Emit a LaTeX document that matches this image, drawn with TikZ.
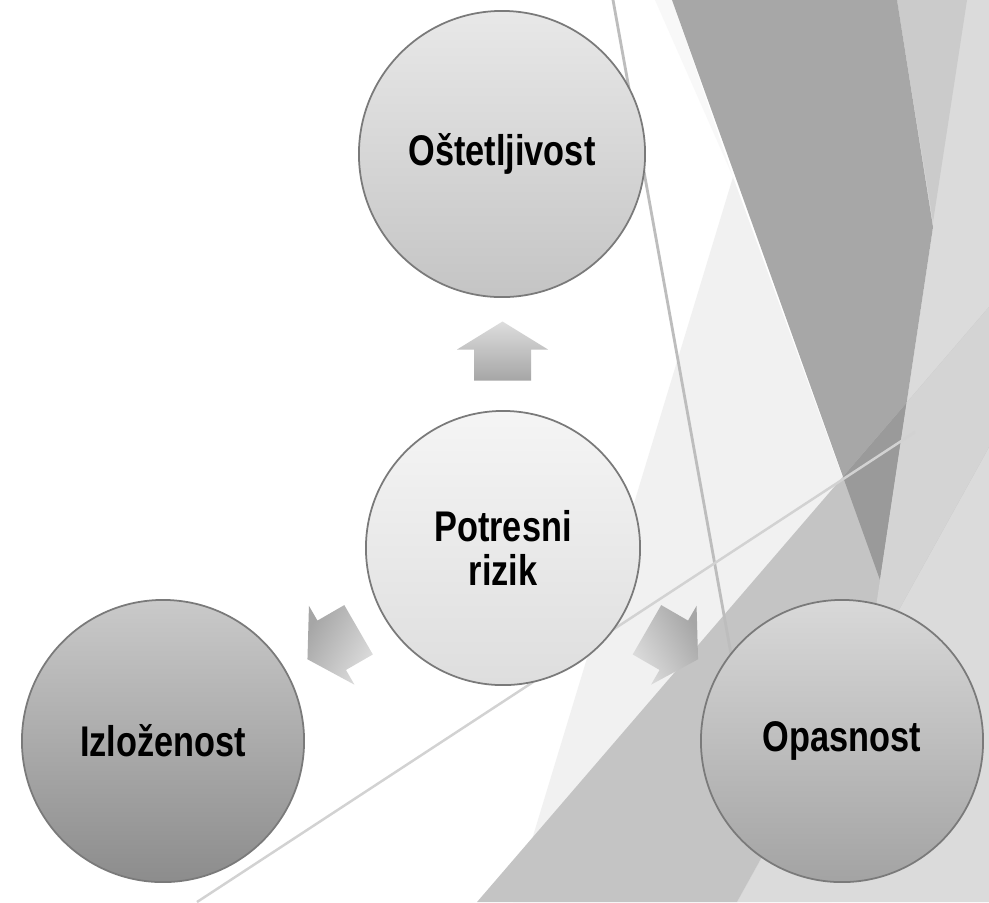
\documentclass[tikz,border=0pt]{standalone}
\usepackage{fontspec}
\setmainfont{Liberation Sans}[FakeStretch=0.8]
\usetikzlibrary{calc}

\definecolor{wedgedark}{HTML}{A7A7A7}
\definecolor{wedgedeep}{HTML}{9A9A9A}
\definecolor{facetmid}{HTML}{C4C4C4}
\definecolor{facetgrey}{HTML}{CBCBCB}
\definecolor{facetlight}{HTML}{DBDBDB}
\definecolor{facetsoft}{HTML}{D4D4D4}
\definecolor{facetpale}{HTML}{F1F1F1}
\definecolor{facetwhite}{HTML}{F8F8F8}
\definecolor{hairline}{HTML}{BDBDBD}
\definecolor{hairlight}{HTML}{D2D2D2}
\definecolor{bubbleline}{HTML}{7A7A7A}
\definecolor{arrowtop}{HTML}{DDDDDD}
\definecolor{arrowbot}{HTML}{A6A6A6}

\tikzset{
  bubble/.style={circle, draw=bubbleline, line width=0.5pt, inner sep=0pt,
    align=center, font=\fontsize{12.2}{12.6}\selectfont\bfseries},
  pics/blockarrow/.style={code={
    \shade[top color=arrowtop, bottom color=arrowbot, shading angle=#1]
      (-28.5,29.5) -- (28.5,29.5) -- (28.5,-1.5) -- (45.5,-1.5)
      -- (0,-29.5) -- (-45.5,-1.5) -- (-28.5,-1.5) -- cycle;
  }},
}

\begin{document}
\begin{tikzpicture}[x=0.01cm, y=-0.01cm]
\useasboundingbox (0,0) rectangle (989,902);
\fill[white] (0,0) rectangle (989,902);

% facets on the right
\fill[facetwhite] (655,0) -- (672,0) -- (733,177) -- cycle;
\fill[facetpale] (733,177) -- (880,580) -- (832,902) -- (513,902) -- cycle;
\fill[facetlight] (897,0) -- (989,0) -- (989,902) -- (737,902) -- (867,667)
  -- (880,580) -- (933,227) -- cycle;
\fill[facetgrey] (897,0) -- (967,0) -- (933,222) -- cycle;
\fill[wedgedark] (672,0) -- (897,0) -- (933,227) -- (880,580) -- cycle;
\fill[facetmid] (477,902) -- (989,307) -- (989,447) -- (737,902) -- cycle;
\begin{scope}
\clip (477,902) -- (989,307) -- (989,447) -- (737,902) -- cycle;
\fill[wedgedeep] (672,0) -- (897,0) -- (933,227) -- (880,580) -- cycle;
\fill[facetsoft] (989,0) -- (989,902) -- (737,902) -- (867,667)
  -- (880,580) -- (933,227) -- cycle;
\end{scope}
\draw[hairline, line width=0.8pt] (613,0) -- (733,665);
\draw[hairlight, line width=0.7pt] (197,902) -- (915,432);

% circles
\node[bubble, minimum size=2.74cm, top color=white!96!black, bottom color=white!87!black]
  (rizik) at (503,548) {Potresni\\rizik};
\node[bubble, minimum size=2.86cm, top color=white!91!black, bottom color=white!77!black]
  (ostet) at (502,154) {Oštetljivost};
\node[bubble, minimum size=2.82cm, top color=white!79!black, bottom color=white!55!black]
  (izlo) at (163,741) {Izloženost};
\node[bubble, minimum size=2.82cm, top color=white!85!black, bottom color=white!64!black]
  (opas) at (842,741) {Opasnost};

% arrows
\pic at ($(rizik.center)!0.5!(ostet.center)$) {blockarrow=0};
\pic[rotate=120] at ($(rizik.center)!0.5!(izlo.center)$) {blockarrow=-120};
\pic[rotate=-120] at ($(rizik.center)!0.5!(opas.center)$) {blockarrow=120};
\end{tikzpicture}
\end{document}
